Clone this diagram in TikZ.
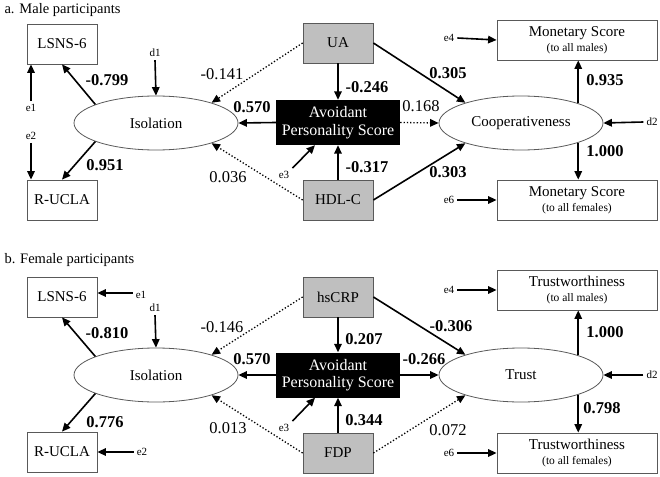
\documentclass[tikz,border=0pt]{standalone}
\usepackage{fontspec}
\setmainfont{Liberation Serif}
\usepackage{tikz}
\usetikzlibrary{shapes,arrows.meta,positioning}

\begin{document}
\begin{tikzpicture}[x=1pt,y=-1pt]
			\tikzstyle{Box}		= [rectangle, draw=black!65, line width=0.8pt, fill=white, inner sep=0pt, font=\fontsize{15}{17}\selectfont]
			\tikzstyle{Obs}		= [Box, minimum width=70pt, minimum height=40pt]
			\tikzstyle{Wide}	= [Box, minimum width=160pt, minimum height=40pt, align=center]
			\tikzstyle{Bio}		= [Obs, fill=black!25]
			\tikzstyle{APS}		= [rectangle, fill=black, text=white, minimum width=124pt, minimum height=45pt, inner sep=0pt, align=center, font=\fontsize{16}{17.5}\selectfont]
			\tikzstyle{Latent}	= [ellipse, draw=black!65, line width=0.8pt, fill=white, minimum width=164pt, minimum height=54pt, font=\fontsize{15}{17}\selectfont]
			\tikzstyle{Err}		= [inner sep=3pt, font=\fontsize{11}{12}\selectfont]
			\tikzstyle{Coef}	= [inner sep=0pt, font=\fontsize{16.5}{18}\selectfont]
			\tikzstyle{CoefB}	= [Coef, font=\fontsize{16.5}{18}\selectfont\bfseries]
			\tikzstyle{Path}	= [line width=1.6pt, -{Triangle[length=8.5pt,width=7.5pt]}]
			\tikzstyle{Weak}	= [Path, line width=1.3pt, dotted]
			\newcommand{\sub}[1]{\\[-2pt]{\fontsize{11.5}{12}\selectfont #1}}

			\useasboundingbox (0,0) rectangle (660,476);

			% a. male participants
			\node (ta) at (1,10) [anchor=west, font=\fontsize{14.5}{16}\selectfont] {a. Male participants};
			\node (lsns) at (62,44) [Obs] {LSNS-6};
			\node (rucla) at (62,200) [Obs] {R-UCLA};
			\node (iso) at (156,123) [Latent] {Isolation};
			\node (d1) at (155,53) [Err] {d1};
			\node (e1) at (31,108) [Err] {e1};
			\node (e2) at (31,136) [Err] {e2};
			\node (ua) at (338,43) [Bio] {UA};
			\node (hdl) at (338,200) [Bio] {HDL-C};
			\node (avo) at (338,122.5) [APS] {Avoidant\\Personality Score};
			\node (e3) at (284,175) [Err] {e3};
			\node (coop) at (521,123) [Latent] {Cooperativeness};
			\node (mon1) at (577,40) [Wide] {Monetary Score\sub{(to all males)}};
			\node (mon2) at (577,200) [Wide] {Monetary Score\sub{(to all females)}};
			\node (e4) at (449,38) [Err] {e4};
			\node (e6) at (449,200) [Err] {e6};
			\node (d2) at (652,122) [Err] {d2};

			\draw (iso.163) to (lsns.south) [Path];
			\draw (iso.197) to (rucla.north) [Path];
			\draw (d1.south) to (iso.north) [Path];
			\draw (e1.north) to (e1.north |- lsns.south) [Path];
			\draw (e2.south) to (e2.south |- rucla.north) [Path];
			\draw (ua.west) to (iso.20) [Weak];
			\draw (hdl.west) to (iso.-20) [Weak];
			\draw (avo.west) to (iso.east) [Path];
			\draw (ua.south) to (avo.north) [Path];
			\draw (hdl.north) to (avo.south) [Path];
			\draw (e3.north east) to ([xshift=-23pt]avo.south) [Path];
			\draw (avo.east) to (coop.west) [Weak];
			\draw (ua.east) to (coop.160) [Path];
			\draw (hdl.east) to (coop.200) [Path];
			\draw (coop.19) to (coop.19 |- mon1.south) [Path];
			\draw (coop.-19) to (coop.-19 |- mon2.north) [Path];
			\draw (d2.west) to (coop.east) [Path];
			\draw (e4.east) to (mon1.west) [Path];
			\draw (e6.east) to (mon2.west) [Path];

			\node (ca1) at (107,80) [CoefB] {-0.799};
			\node (ca2) at (105,165) [CoefB] {0.951};
			\node (ca3) at (222,74) [Coef] {-0.141};
			\node (ca4) at (228,177) [Coef] {0.036};
			\node (ca5) at (252,107) [CoefB] {0.570};
			\node (ca6) at (367,87) [CoefB] {-0.246};
			\node (ca7) at (367,167) [CoefB] {-0.317};
			\node (ca8) at (421,106) [Coef] {0.168};
			\node (ca9) at (448,73) [CoefB] {0.305};
			\node (ca10) at (448,172) [CoefB] {0.303};
			\node (ca11) at (605,80) [CoefB] {0.935};
			\node (ca12) at (605,151) [CoefB] {1.000};

			% b. female participants
			\node (tb) at (1,260) [anchor=west, font=\fontsize{14.5}{16}\selectfont] {b. Female participants};
			\node (lsnsb) at (62,297) [Obs] {LSNS-6};
			\node (ruclab) at (62,452) [Obs] {R-UCLA};
			\node (isob) at (156,375) [Latent] {Isolation};
			\node (d1b) at (155,308) [Err] {d1};
			\node (e1b) at (141,295) [Err] {e1};
			\node (e2b) at (142,452) [Err] {e2};
			\node (crp) at (338,297) [Bio] {hsCRP};
			\node (fdp) at (338,453) [Bio] {FDP};
			\node (avob) at (338,375) [APS] {Avoidant\\Personality Score};
			\node (e3b) at (284,428) [Err] {e3};
			\node (trust) at (521,375) [Latent] {Trust};
			\node (tw1) at (577,290) [Wide] {Trustworthiness\sub{(to all males)}};
			\node (tw2) at (577,453) [Wide] {Trustworthiness\sub{(to all females)}};
			\node (e4b) at (449,290) [Err] {e4};
			\node (e6b) at (449,453) [Err] {e6};
			\node (d2b) at (652,375) [Err] {d2};

			\draw (isob.163) to (lsnsb.south) [Path];
			\draw (isob.197) to (ruclab.north) [Path];
			\draw (d1b.south) to (isob.north) [Path];
			\draw ([yshift=2pt]e1b.west) to ([yshift=2pt]e1b.west -| lsnsb.east) [Path];
			\draw (e2b.west) to (e2b.west -| ruclab.east) [Path];
			\draw (crp.west) to (isob.20) [Weak];
			\draw (fdp.west) to (isob.-20) [Weak];
			\draw (avob.west) to (isob.east) [Path];
			\draw (crp.south) to (avob.north) [Path];
			\draw (fdp.north) to (avob.south) [Path];
			\draw (e3b.north east) to ([xshift=-23pt]avob.south) [Path];
			\draw (avob.east) to (trust.west) [Path];
			\draw (crp.east) to (trust.160) [Path];
			\draw (fdp.east) to (trust.200) [Weak];
			\draw (trust.19) to (trust.19 |- tw1.south) [Path];
			\draw (trust.-19) to (trust.-19 |- tw2.north) [Path];
			\draw (d2b.west) to (trust.east) [Path];
			\draw (e4b.east) to (tw1.west) [Path];
			\draw (e6b.east) to (tw2.west) [Path];

			\node (cb1) at (107,333) [CoefB] {-0.810};
			\node (cb2) at (105,422) [CoefB] {0.776};
			\node (cb3) at (222,327) [Coef] {-0.146};
			\node (cb4) at (228,428) [Coef] {0.013};
			\node (cb5) at (252,359) [CoefB] {0.570};
			\node (cb6) at (364,339) [CoefB] {0.207};
			\node (cb7) at (364,420) [CoefB] {0.344};
			\node (cb8) at (424,359) [CoefB] {-0.266};
			\node (cb9) at (451,326) [CoefB] {-0.306};
			\node (cb10) at (448,430) [Coef] {0.072};
			\node (cb11) at (605,332) [CoefB] {1.000};
			\node (cb12) at (602,408) [CoefB] {0.798};
		\end{tikzpicture}
\end{document}
